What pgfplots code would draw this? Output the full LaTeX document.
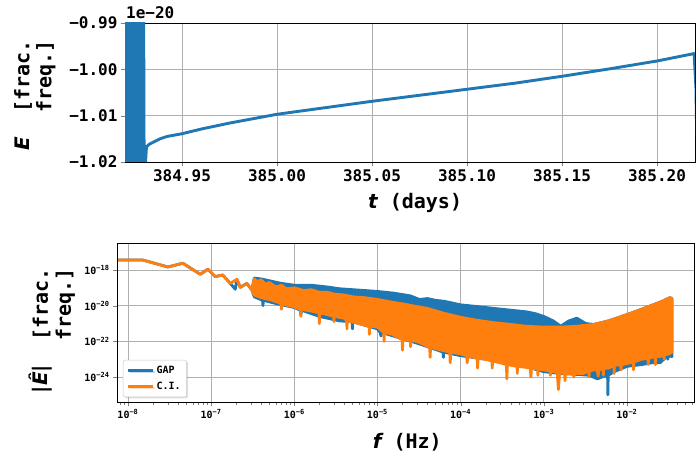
\documentclass[border=0pt]{standalone}
\usepackage{fontspec}
\setmainfont{DejaVu Sans Mono}
\newfontfamily\ebi{DejaVu Sans Bold Oblique}
\newfontfamily\dvsb{DejaVu Sans Bold}
\usepackage{pgfplots}
\pgfplotsset{compat=1.18}
\usetikzlibrary{shadows}
\definecolor{mblue}{HTML}{1F77B4}
\definecolor{morange}{HTML}{FF7F0E}
\definecolor{gridc}{HTML}{B0B0B0}
\begin{document}
\begin{tikzpicture}
\useasboundingbox (0,0) rectangle (696bp,456bp);
% ---------------- top: E(t), x = t - 384 days, y in units of 1e-20
\begin{axis}[
  name=top,
  at={(125bp,294bp)}, anchor=south west,
  scale only axis, width=570bp, height=139bp,
  xmin=0.92, xmax=1.22, ymin=-1.02, ymax=-0.99,
  xtick={0.95,1.00,1.05,1.10,1.15,1.20},
  xticklabels={384.95,385.00,385.05,385.10,385.15,385.20},
  ytick={-1.02,-1.01,-1.00,-0.99},
  yticklabels={−1.02,−1.01,−1.00,−0.99},
  tick label style={font=\fontsize{16bp}{18bp}\selectfont\bfseries},
  xtick pos=bottom, ytick pos=left, tick align=outside,
  major tick length=4bp,
  grid=major, grid style={gridc, line width=0.8bp},
  axis line style={line width=0.8bp},
  label style={font=\fontsize{20bp}{22bp}\selectfont\bfseries},
  xlabel={{\ebi t} (days)},
  xlabel style={at={(axis description cs:0.509,0)}, anchor=base, yshift=-47bp},
  ylabel={{\ebi E}\ \ [frac.\\freq.]},
  ylabel style={at={(axis description cs:-0.158,0.478)}, anchor=center, align=right},
]
\addplot[mblue, line width=2.9bp, line join=round] coordinates {
(0.9190,-0.985) (0.9193,-1.025) (0.9196,-0.985) (0.9199,-1.025)
(0.9202,-0.985) (0.9205,-1.025) (0.9208,-0.985) (0.9211,-1.025)
(0.9214,-0.985) (0.9217,-1.025) (0.9220,-0.985) (0.9223,-1.025)
(0.9226,-0.985) (0.9229,-1.025) (0.9232,-0.985) (0.9235,-1.025)
(0.9238,-0.985) (0.9241,-1.025) (0.9244,-0.985) (0.9247,-1.025)
(0.9250,-0.985) (0.9253,-1.025) (0.9256,-0.985) (0.9259,-1.025)
(0.9262,-0.985) (0.9265,-1.025) (0.9268,-0.985) (0.9271,-1.025)
(0.9274,-0.985) (0.9277,-1.025) (0.9280,-0.985) (0.9283,-1.025)
(0.9286,-0.985) (0.9289,-1.025) (0.9292,-0.985) (0.9295,-1.025)
(0.9298,-0.985) (0.9301,-1.025)
(0.9313,-1.0167) (0.9330,-1.0161) (0.9350,-1.0157) (0.9384,-1.0150)
(0.9420,-1.0145) (0.9500,-1.0139) (0.9600,-1.0129) (0.9750,-1.0116)
(1.0000,-1.0097) (1.0250,-1.0083) (1.0500,-1.0069) (1.0750,-1.0056)
(1.1000,-1.0043) (1.1250,-1.0030) (1.1500,-1.0015) (1.1750,-0.9999)
(1.2000,-0.9982) (1.2195,-0.9966) (1.2205,-1.0040) (1.2215,-1.0300)
};
\end{axis}
\node[anchor=base west, inner sep=0pt, font=\fontsize{16bp}{18bp}\selectfont\bfseries]
  at ([xshift=1bp,yshift=4bp]top.north west) {1e−20};
% ---------------- bottom: |E^|(f)
\begin{axis}[
  name=bot,
  at={(117bp,54bp)}, anchor=south west,
  scale only axis, width=577bp, height=159bp,
  xmode=log, ymode=log,
  xmin=7.38e-9, xmax=6.4e-2, ymin=4e-26, ymax=3.27e-17,
  xtick={1e-8,1e-7,1e-6,1e-5,1e-4,1e-3,1e-2},
  xticklabels={10\textsuperscript{−8},10\textsuperscript{−7},10\textsuperscript{−6},10\textsuperscript{−5},10\textsuperscript{−4},10\textsuperscript{−3},10\textsuperscript{−2}},
  minor xtick={8e-9,9e-9,
    2e-8,3e-8,4e-8,5e-8,6e-8,7e-8,8e-8,9e-8,
    2e-7,3e-7,4e-7,5e-7,6e-7,7e-7,8e-7,9e-7,
    2e-6,3e-6,4e-6,5e-6,6e-6,7e-6,8e-6,9e-6,
    2e-5,3e-5,4e-5,5e-5,6e-5,7e-5,8e-5,9e-5,
    2e-4,3e-4,4e-4,5e-4,6e-4,7e-4,8e-4,9e-4,
    2e-3,3e-3,4e-3,5e-3,6e-3,7e-3,8e-3,9e-3,
    2e-2,3e-2,4e-2,5e-2,6e-2},
  ytick={1e-24,1e-22,1e-20,1e-18},
  yticklabels={10\textsuperscript{−24},10\textsuperscript{−22},10\textsuperscript{−20},10\textsuperscript{−18}},
  tick label style={font=\fontsize{10bp}{12bp}\selectfont\bfseries},
  xtick pos=bottom, ytick pos=left, tick align=outside,
  major tick length=4bp, minor tick length=2.5bp,
  grid=major, grid style={gridc, line width=0.8bp},
  axis line style={line width=0.8bp},
  label style={font=\fontsize{20bp}{23bp}\selectfont\bfseries},
  xlabel={{\ebi f} (Hz)},
  xlabel style={at={(axis description cs:0.503,0)}, anchor=base, yshift=-46bp},
  ylabel={{\dvsb |}{\ebi Ê}{\dvsb |}\ \ [frac.\\freq.]},
  ylabel style={at={(axis description cs:-0.1125,0.447)}, anchor=center, align=right},
  legend style={at={(axis description cs:0.0104,0.031)}, anchor=south west,
    font=\fontsize{10bp}{12bp}\selectfont\bfseries, draw=gridc!70, rounded corners=2bp,
    fill=white, drop shadow={shadow xshift=1.5bp, shadow yshift=-1.5bp, opacity=0.25},
    row sep=3bp, inner sep=4bp},
  legend cell align=left,
  legend image code/.code={\draw[#1, fill=none, line width=2.4bp] (0bp,0bp) -- (25bp,0bp);},
]
% GAP
\addplot[draw=mblue, fill=mblue, line width=2.8bp, line join=round] coordinates {
(7.59e-9,3.63e-18) (1.51e-8,3.63e-18) (3.02e-8,1.48e-18) (4.57e-8,2.40e-18)
(7.41e-8,5.75e-19) (9.12e-8,1.10e-18) (1.12e-7,4.27e-19) (1.38e-7,5.25e-19)
(1.70e-7,1.78e-19) (1.95e-7,8.32e-20) (2.04e-7,3.02e-19) (2.24e-7,1.07e-19)
(2.69e-7,1.78e-19) (3.09e-7,7.59e-20)
(3.30e-7,3.55e-19) (4.00e-7,3.16e-19) (5.00e-7,2.51e-19) (7.00e-7,1.78e-19)
(1.00e-6,1.41e-19) (1.60e-6,1.41e-19) (2.50e-6,1.12e-19) (3.50e-6,8.91e-20)
(5.00e-6,7.94e-20) (1.00e-5,6.31e-20) (1.60e-5,5.01e-20) (2.50e-5,3.55e-20)
(3.20e-5,2.24e-20) (4.00e-5,2.51e-20) (5.00e-5,2.00e-20) (6.30e-5,1.78e-20)
(1.00e-4,1.12e-20) (1.60e-4,8.91e-21) (2.50e-4,7.08e-21) (4.00e-4,5.62e-21)
(6.30e-4,4.47e-21) (8.00e-4,3.55e-21) (1.00e-3,2.51e-21) (1.30e-3,1.41e-21)
(1.60e-3,7.08e-22) (2.00e-3,1.41e-21) (2.50e-3,2.00e-21) (3.20e-3,1.00e-21)
(4.00e-3,8.91e-22) (6.00e-3,1.41e-21) (1.00e-2,3.16e-21) (1.50e-2,6.31e-21)
(2.50e-2,1.58e-20) (3.30e-2,2.82e-20) (3.47e-2,2.51e-20)
(3.47e-2,1.41e-23)
(3.12e-2,1.58e-23) (3.10e-2,1.00e-23) (3.08e-2,1.58e-23)
(2.50e-2,6.31e-24) (2.00e-2,6.31e-24) (1.50e-2,5.01e-24) (1.00e-2,3.98e-24)
(7.00e-3,2.00e-24)
(5.95e-3,1.26e-24) (5.90e-3,1.00e-25) (5.85e-3,1.26e-24)
(5.00e-3,1.00e-24) (4.40e-3,7.94e-25) (3.50e-3,1.26e-24) (2.50e-3,1.41e-24)
(1.60e-3,1.58e-24) (1.00e-3,2.00e-24) (5.00e-4,5.01e-24) (2.00e-4,1.00e-23)
(1.00e-4,1.58e-23)
(6.25e-5,2.51e-23) (6.20e-5,1.26e-23) (6.15e-5,2.51e-23)
(3.00e-5,7.94e-23)
(1.12e-5,3.16e-22) (1.10e-5,2.00e-22) (1.08e-5,3.16e-22)
(1.00e-5,5.01e-22)
(5.05e-6,1.26e-21) (5.00e-6,5.01e-22) (4.95e-6,1.26e-21)
(3.50e-6,1.41e-21) (2.00e-6,2.51e-21)
(1.22e-6,5.62e-21) (1.20e-6,3.16e-21) (1.18e-6,5.62e-21)
(1.00e-6,7.94e-21) (6.30e-7,1.26e-20)
(4.25e-7,2.00e-20) (4.20e-7,1.00e-20) (4.15e-7,2.00e-20)
(3.30e-7,3.16e-20) (3.09e-7,7.59e-20)
(2.69e-7,1.78e-19) (2.24e-7,1.07e-19) (2.04e-7,3.02e-19) (1.95e-7,8.32e-20)
(1.70e-7,1.78e-19) (1.38e-7,5.25e-19) (1.12e-7,4.27e-19) (9.12e-8,1.10e-18)
(7.41e-8,5.75e-19) (4.57e-8,2.40e-18) (3.02e-8,1.48e-18) (1.51e-8,3.63e-18)
(7.59e-9,3.63e-18)
};
\addlegendentry{GAP}
% C.I.
\addplot[draw=morange, fill=morange, line width=2.8bp, line join=round] coordinates {
(7.59e-9,3.63e-18) (1.51e-8,3.63e-18) (3.02e-8,1.48e-18) (4.57e-8,2.40e-18)
(7.41e-8,5.75e-19) (9.12e-8,1.10e-18) (1.12e-7,4.27e-19) (1.38e-7,5.25e-19)
(1.70e-7,1.78e-19) (2.04e-7,3.02e-19) (2.24e-7,1.07e-19) (2.69e-7,1.78e-19)
(3.09e-7,7.59e-20)
(3.30e-7,3.16e-19) (3.60e-7,2.24e-19) (4.00e-7,2.82e-19) (4.50e-7,1.58e-19)
(5.00e-7,2.00e-19) (6.00e-7,1.12e-19) (7.00e-7,1.41e-19) (8.00e-7,8.91e-20)
(1.00e-6,1.00e-19) (1.30e-6,7.08e-20) (1.60e-6,7.94e-20) (2.00e-6,5.62e-20)
(2.50e-6,5.62e-20) (3.00e-6,4.47e-20) (4.00e-6,3.98e-20) (5.00e-6,3.16e-20)
(7.00e-6,2.82e-20) (1.00e-5,2.24e-20) (1.50e-5,1.58e-20) (2.00e-5,1.26e-20)
(3.00e-5,8.91e-21) (4.00e-5,7.08e-21) (6.00e-5,3.98e-21) (1.00e-4,2.24e-21)
(1.50e-4,1.58e-21) (2.50e-4,1.12e-21) (4.00e-4,8.91e-22) (6.00e-4,7.08e-22)
(1.00e-3,6.31e-22) (1.60e-3,6.31e-22) (2.50e-3,7.08e-22) (4.00e-3,8.91e-22)
(6.00e-3,1.41e-21) (1.00e-2,3.16e-21) (1.50e-2,6.31e-21) (2.50e-2,1.58e-20)
(3.30e-2,2.82e-20) (3.47e-2,2.51e-20)
(3.47e-2,2.51e-23) (3.20e-2,2.00e-23)
(2.82e-2,1.78e-23) (2.80e-2,1.00e-23) (2.78e-2,1.78e-23)
(2.50e-2,1.41e-23)
(2.22e-2,1.41e-23) (2.20e-2,5.01e-24) (2.18e-2,1.41e-23)
(2.00e-2,1.26e-23)
(1.82e-2,1.12e-23) (1.80e-2,5.01e-24) (1.78e-2,1.12e-23)
(1.50e-2,1.00e-23)
(1.21e-2,7.08e-24) (1.20e-2,2.51e-24) (1.19e-2,7.08e-24)
(1.00e-2,5.62e-24)
(8.60e-3,5.01e-24) (8.50e-3,2.51e-24) (8.40e-3,5.01e-24)
(7.05e-3,4.47e-24) (7.00e-3,1.58e-24) (6.95e-3,4.47e-24)
(6.00e-3,3.16e-24)
(5.25e-3,3.16e-24) (5.20e-3,1.26e-24) (5.15e-3,3.16e-24)
(4.60e-3,2.51e-24) (4.50e-3,1.12e-24) (4.40e-3,2.51e-24)
(4.00e-3,2.51e-24)
(3.53e-3,2.24e-24) (3.50e-3,1.00e-24) (3.47e-3,2.24e-24)
(3.00e-3,1.58e-24)
(2.33e-3,1.58e-24) (2.30e-3,1.00e-24) (2.27e-3,1.58e-24)
(2.00e-3,1.58e-24)
(1.82e-3,1.58e-24) (1.80e-3,6.31e-25) (1.78e-3,1.58e-24)
(1.55e-3,1.78e-24) (1.50e-3,2.00e-25) (1.45e-3,1.78e-24)
(1.21e-3,2.24e-24) (1.20e-3,1.26e-24) (1.19e-3,2.24e-24)
(1.00e-3,2.51e-24)
(8.55e-4,2.82e-24) (8.50e-4,1.26e-24) (8.45e-4,2.82e-24)
(7.10e-4,3.16e-24) (7.00e-4,1.00e-24) (6.90e-4,3.16e-24)
(6.00e-4,3.55e-24)
(4.83e-4,3.98e-24) (4.80e-4,1.58e-24) (4.77e-4,3.98e-24)
(3.65e-4,5.01e-24) (3.60e-4,7.94e-25) (3.55e-4,5.01e-24)
(3.00e-4,6.31e-24)
(2.42e-4,7.94e-24) (2.40e-4,3.16e-24) (2.38e-4,7.94e-24)
(2.00e-4,1.00e-23)
(1.62e-4,1.12e-23) (1.60e-4,3.16e-24) (1.58e-4,1.12e-23)
(1.22e-4,1.58e-23) (1.20e-4,6.31e-24) (1.18e-4,1.58e-23)
(1.00e-4,2.00e-23)
(7.60e-5,2.51e-23) (7.50e-5,6.31e-24) (7.40e-5,2.51e-23)
(6.00e-5,3.16e-23) (5.00e-5,3.98e-23)
(4.35e-5,4.47e-23) (4.30e-5,1.26e-23) (4.25e-5,4.47e-23)
(3.00e-5,1.00e-22)
(2.52e-5,1.12e-22) (2.50e-5,5.01e-23) (2.48e-5,1.12e-22)
(2.02e-5,1.26e-22) (2.00e-5,3.16e-23) (1.98e-5,1.26e-22)
(1.50e-5,2.51e-22)
(1.21e-5,3.16e-22) (1.20e-5,1.00e-22) (1.19e-5,3.16e-22)
(1.00e-5,6.31e-22)
(8.05e-6,7.08e-22) (8.00e-6,2.51e-22) (7.95e-6,7.08e-22)
(6.00e-6,1.00e-21)
(4.33e-6,1.41e-21) (4.30e-6,5.01e-22) (4.27e-6,1.41e-21)
(4.00e-6,2.00e-21)
(3.02e-6,2.51e-21) (3.00e-6,1.26e-21) (2.98e-6,2.51e-21)
(2.50e-6,3.16e-21)
(2.02e-6,3.98e-21) (2.00e-6,1.00e-21) (1.98e-6,3.98e-21)
(1.60e-6,5.01e-21)
(1.21e-6,6.31e-21) (1.20e-6,2.51e-21) (1.19e-6,6.31e-21)
(1.00e-6,8.51e-21)
(7.05e-7,1.26e-20) (7.00e-7,6.31e-21) (6.95e-7,1.26e-20)
(6.30e-7,1.58e-20) (5.00e-7,2.24e-20) (4.00e-7,2.82e-20) (3.30e-7,3.98e-20)
(3.09e-7,7.59e-20)
(2.69e-7,1.78e-19) (2.24e-7,1.07e-19) (2.04e-7,3.02e-19) (1.70e-7,1.78e-19)
(1.38e-7,5.25e-19) (1.12e-7,4.27e-19) (9.12e-8,1.10e-18) (7.41e-8,5.75e-19)
(4.57e-8,2.40e-18) (3.02e-8,1.48e-18) (1.51e-8,3.63e-18) (7.59e-9,3.63e-18)
};
\addlegendentry{C.I.}
\end{axis}
\end{tikzpicture}
\end{document}
